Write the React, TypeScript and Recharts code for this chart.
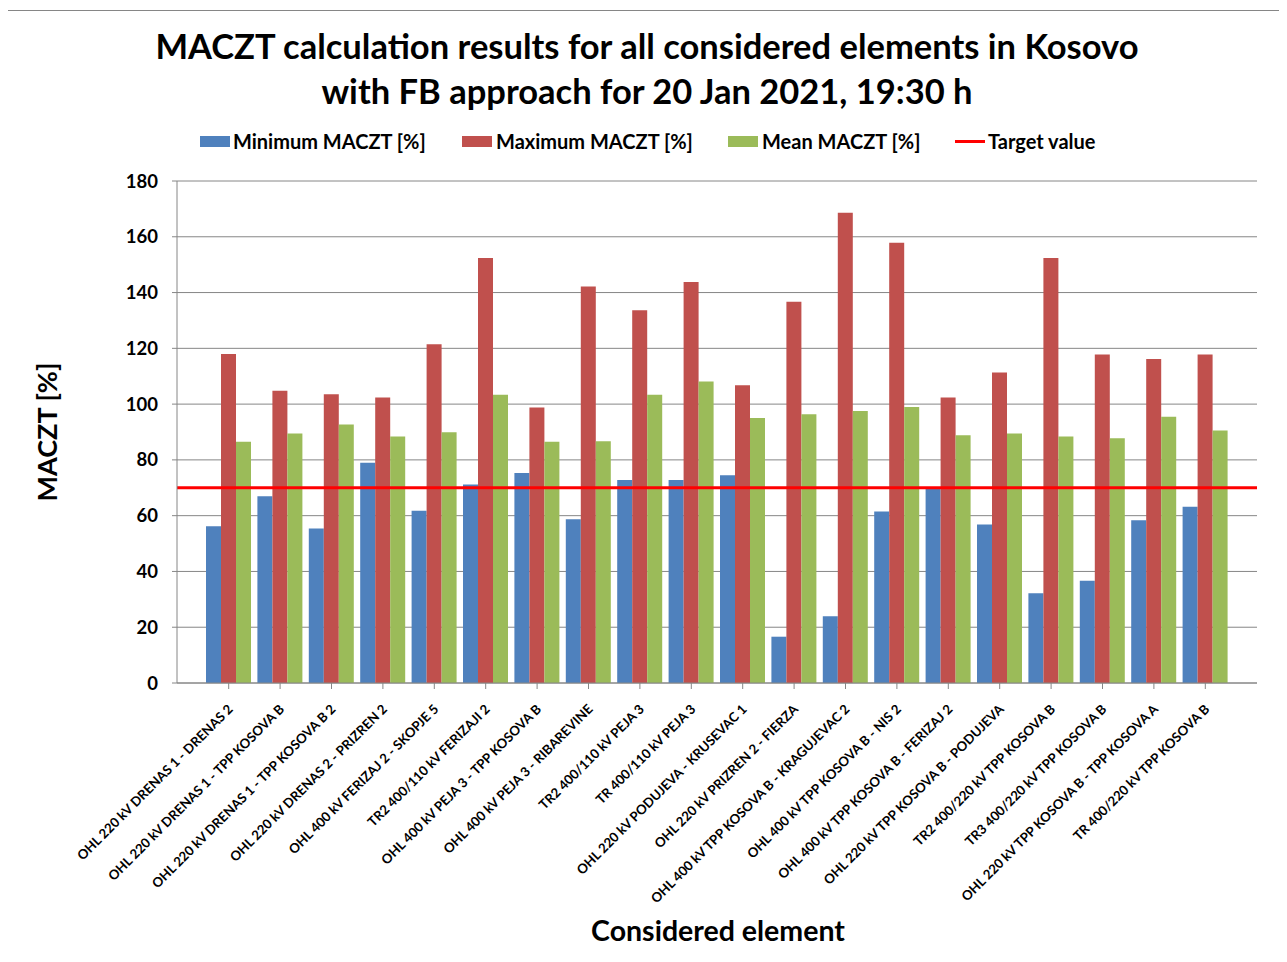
import React from "react";
import {
  BarChart,
  Bar,
  XAxis,
  YAxis,
  CartesianGrid,
  ReferenceLine,
} from "recharts";

const elements = [
  "OHL 220 kV DRENAS 1 - DRENAS 2",
  "OHL 220 kV DRENAS 1 - TPP KOSOVA B",
  "OHL 220 kV DRENAS 1 - TPP KOSOVA B 2",
  "OHL 220 kV DRENAS 2 - PRIZREN 2",
  "OHL 400 kV FERIZAJ 2 - SKOPJE 5",
  "TR2 400/110 kV FERIZAJI 2",
  "OHL 400 kV PEJA 3 - TPP KOSOVA B",
  "OHL 400 kV PEJA 3 - RIBAREVINE",
  "TR2 400/110 kV PEJA 3",
  "TR 400/110 kV PEJA 3",
  "OHL 220 kV PODUJEVA - KRUSEVAC 1",
  "OHL 220 kV PRIZREN 2 - FIERZA",
  "OHL 400 kV TPP KOSOVA B - KRAGUJEVAC 2",
  "OHL 400 kV TPP KOSOVA B - NIS 2",
  "OHL 400 kV TPP KOSOVA B - FERIZAJ 2",
  "OHL 220 kV TPP KOSOVA B - PODUJEVA",
  "TR2 400/220 kV TPP KOSOVA B",
  "TR3 400/220 kV TPP KOSOVA B",
  "OHL 220 kV TPP KOSOVA B - TPP KOSOVA A",
  "TR 400/220 kV TPP KOSOVA B",
];

const minMaczt = [56.2, 67, 55.4, 79, 61.8, 71.2, 75.3, 58.7, 72.8, 72.8, 74.5, 16.6, 23.9, 61.5, 69.9, 56.8, 32.2, 36.7, 58.4, 63.2];
const maxMaczt = [118, 104.8, 103.5, 102.4, 121.5, 152.4, 98.8, 142.2, 133.7, 143.8, 106.8, 136.7, 168.6, 157.9, 102.4, 111.3, 152.4, 117.8, 116.2, 117.8];
const meanMaczt = [86.5, 89.5, 92.7, 88.4, 89.9, 103.4, 86.5, 86.7, 103.4, 108.1, 95, 96.4, 97.5, 99, 88.8, 89.5, 88.4, 87.8, 95.5, 90.5];
const targetValue = 70;
const yTicks = [0, 20, 40, 60, 80, 100, 120, 140, 160, 180];

const data = elements.map((name, i) => ({
  name,
  min: minMaczt[i],
  max: maxMaczt[i],
  mean: meanMaczt[i],
}));

const FONT = "Lato, 'Open Sans', sans-serif";
const GRID = "#868686";

function XTick(props: any) {
  const { x, y, payload } = props;
  const ax = x + 5;
  const ay = y + 19;
  return (
    <text
      x={ax}
      y={ay}
      transform={`rotate(-45 ${ax} ${ay})`}
      textAnchor="end"
      fontSize={13.2}
      fontWeight={700}
      fontFamily={FONT}
      fill="#000"
    >
      {payload.value}
    </text>
  );
}

const legendItems = [
  { label: "Minimum MACZT [%]", color: "#4F81BD", kx: 192, tx: 225, kind: "box" },
  { label: "Maximum MACZT [%]", color: "#C0504D", kx: 454, tx: 488, kind: "box" },
  { label: "Mean MACZT [%]", color: "#9BBB59", kx: 720, tx: 754, kind: "box" },
  { label: "Target value", color: "#FF0000", kx: 947, tx: 980, kind: "line" },
];

export default function App() {
  return (
    <div
      style={{
        position: "relative",
        left: -1,
        top: 2,
        width: 1279,
        height: 950,
        borderLeft: `1px solid ${GRID}`,
        borderTop: `1px solid ${GRID}`,
        boxSizing: "border-box",
        background: "#fff",
        fontFamily: FONT,
      }}
    >
      {/* title */}
      <div
        style={{
          position: "absolute",
          left: 0,
          top: 12,
          width: 1278,
          textAlign: "center",
          fontSize: 34.5,
          fontWeight: 700,
          lineHeight: "45px",
          color: "#000",
        }}
      >
        <div>MACZT calculation results for all considered elements in Kosovo</div>
        <div>with FB approach for 20 Jan 2021, 19:30 h</div>
      </div>

      {/* legend */}
      {legendItems.map((it) => (
        <React.Fragment key={it.label}>
          {it.kind === "box" ? (
            <div
              style={{
                position: "absolute",
                left: it.kx,
                top: 125,
                width: 30,
                height: 11,
                background: it.color,
              }}
            />
          ) : (
            <div
              style={{
                position: "absolute",
                left: it.kx,
                top: 129,
                width: 30,
                height: 3,
                background: it.color,
              }}
            />
          )}
          <div
            style={{
              position: "absolute",
              left: it.tx,
              top: 117,
              fontSize: 20,
              fontWeight: 700,
              lineHeight: "26px",
              whiteSpace: "nowrap",
            }}
          >
            {it.label}
          </div>
        </React.Fragment>
      ))}

      {/* y axis title */}
      <div style={{ position: "absolute", left: 39, top: 421, width: 0, height: 0 }}>
        <div
          style={{
            position: "absolute",
            left: -100,
            top: -17,
            width: 200,
            textAlign: "center",
            fontSize: 27,
            fontWeight: 700,
            lineHeight: "34px",
            transform: "rotate(-90deg)",
            whiteSpace: "nowrap",
          }}
        >
          MACZT [%]
        </div>
      </div>

      {/* x axis title */}
      <div
        style={{
          position: "absolute",
          left: 560,
          top: 902,
          width: 300,
          textAlign: "center",
          fontSize: 28.5,
          fontWeight: 700,
          lineHeight: "34px",
          whiteSpace: "nowrap",
        }}
      >
        Considered element
      </div>

      <div style={{ position: "absolute", left: 0, top: 0 }}>
        <BarChart
          width={1278}
          height={940}
          data={data}
          margin={{ top: 170, right: 29, bottom: 0, left: 0 }}
          barCategoryGap={3}
          barGap={0}
        >
          <CartesianGrid horizontal vertical={false} stroke={GRID} strokeWidth={1} strokeOpacity={1} />
          <XAxis
            dataKey="name"
            interval={0}
            height={268}
            padding={{ left: 26, right: 26 }}
            axisLine={{ stroke: GRID }}
            tickLine={{ stroke: GRID }}
            tickSize={6}
            tick={<XTick />}
          />
          <YAxis
            width={169}
            domain={[0, 180]}
            ticks={yTicks}
            interval={0}
            axisLine={{ stroke: GRID }}
            tickLine={{ stroke: GRID }}
            tickSize={5}
            tickMargin={14}
            tick={{ fill: "#000", fontSize: 18.5, fontWeight: 700, fontFamily: FONT }}
          />
          <Bar dataKey="min" fill="#4F81BD" isAnimationActive={false} />
          <Bar dataKey="max" fill="#C0504D" isAnimationActive={false} />
          <Bar dataKey="mean" fill="#9BBB59" isAnimationActive={false} />
          <ReferenceLine y={targetValue} stroke="#FF0000" strokeWidth={3} ifOverflow="extendDomain" />
        </BarChart>
      </div>
    </div>
  );
}
